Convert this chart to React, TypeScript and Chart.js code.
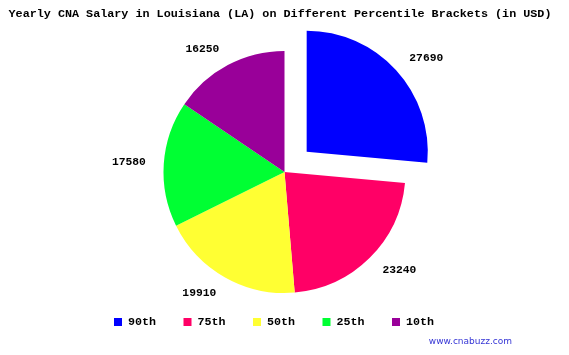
import React, { useEffect, useRef } from "react";
import { Chart, registerables } from "chart.js";

Chart.register(...registerables);

const titleText = "Yearly CNA Salary in Louisiana (LA) on Different Percentile Brackets (in USD)";
const categories = ["90th", "75th", "50th", "25th", "10th"];
const salaries = [27690, 23240, 19910, 17580, 16250];
const sliceColors = ["#0000FF", "#FF0066", "#FFFF33", "#00FF33", "#990099"];
const explodePx = [30, 0, 0, 0, 0];
const watermark = "www.cnabuzz.com";

const MONO = "'Liberation Mono', 'Courier New', monospace";

const labelPlugin = {
  id: "sliceLabels",
  afterDatasetsDraw(chart: any) {
    const ctx = chart.ctx;
    const meta = chart.getDatasetMeta(0);
    ctx.save();
    ctx.font = `bold 11.3px ${MONO}`;
    ctx.fillStyle = "#000";
    ctx.textBaseline = "middle";
    meta.data.forEach((arc: any, i: number) => {
      const p = arc.getProps(["x", "y", "startAngle", "endAngle", "outerRadius"], true);
      const mid = (p.startAngle + p.endAngle) / 2;
      const off = explodePx[i];
      const r = p.outerRadius + 18 + off;
      const c = Math.cos(mid);
      ctx.textAlign = c >= 0 ? "left" : "right";
      ctx.fillText(String(salaries[i]), p.x + c * r, p.y + Math.sin(mid) * r);
    });
    ctx.restore();
  },
  afterDraw(chart: any) {
    const ctx = chart.ctx;
    ctx.save();
    // title
    ctx.font = `bold 11.75px ${MONO}`;
    ctx.fillStyle = "#000";
    ctx.textAlign = "center";
    ctx.textBaseline = "middle";
    ctx.fillText(titleText, 280, 14);
    // legend
    ctx.font = `bold 11.67px ${MONO}`;
    ctx.textAlign = "left";
    const startX = 114;
    const step = 69.5;
    const y = 322;
    categories.forEach((cat, i) => {
      const x = startX + step * i;
      ctx.fillStyle = sliceColors[i];
      ctx.fillRect(x, y - 4, 8, 8);
      ctx.fillStyle = "#000";
      ctx.fillText(cat, x + 14, y);
    });
    // watermark
    ctx.font = "9px 'DejaVu Sans', Verdana, sans-serif";
    ctx.fillStyle = "#3535D5";
    ctx.textAlign = "right";
    ctx.fillText(watermark, 512, 342);
    ctx.restore();
  },
};

export default function App() {
  const ref = useRef<HTMLCanvasElement>(null);
  useEffect(() => {
    document.body.style.margin = "0";
    const chart = new Chart(ref.current!, {
      type: "pie",
      data: {
        labels: categories,
        datasets: [
          {
            data: salaries,
            backgroundColor: sliceColors,
            borderWidth: 0,
            // Chart.js divides the arc offset by 4 when drawing
            offset: explodePx.map((v) => v * 4),
            radius: 121,
          } as any,
        ],
      },
      options: {
        animation: false,
        responsive: false,
        maintainAspectRatio: false,
        layout: { padding: { top: 55, bottom: 66 } },
        plugins: {
          title: { display: false },
          legend: { display: false },
          tooltip: { enabled: false },
        },
      },
      plugins: [labelPlugin],
    });
    return () => chart.destroy();
  }, []);
  return (
    <div style={{ width: 569, height: 355, background: "#fff" }}>
      <canvas ref={ref} width={569} height={355} />
    </div>
  );
}
